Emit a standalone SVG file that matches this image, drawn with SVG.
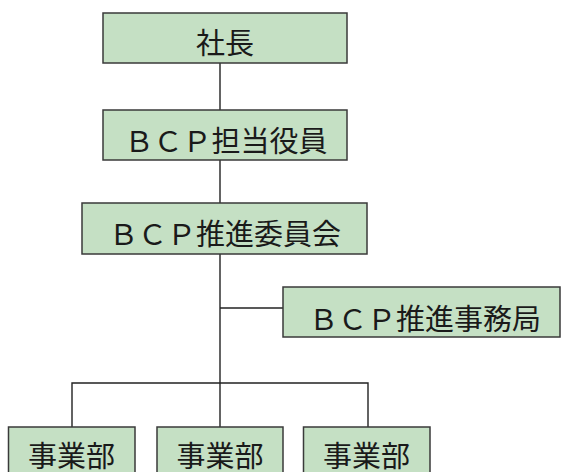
<svg xmlns="http://www.w3.org/2000/svg" width="563" height="472" viewBox="0 0 563 472">
<style>
.box{fill:#c5e0c4;stroke:#3a3a3a;stroke-width:1.5}
.lbl{font-family:"Noto Sans CJK JP","Noto Sans CJK SC",sans-serif;font-size:29px;fill:#1a1a1a;text-anchor:middle;dominant-baseline:central}
.ln{stroke:#222;stroke-width:1.4;fill:none}
</style>
<rect width="563" height="472" fill="#ffffff"/>
<g id="connectors">
<line class="ln" x1="220" y1="63" x2="220" y2="110"/>
<line class="ln" x1="220" y1="160" x2="220" y2="203"/>
<line class="ln" x1="220" y1="254" x2="220" y2="427"/>
<line class="ln" x1="220" y1="308" x2="283" y2="308"/>
<polyline class="ln" points="72,427 72,383 368,383 368,427"/>
</g>
<g id="node-shacho">
<rect class="box" x="103" y="13" width="244" height="50"/>
<text class="lbl" x="225" y="41">社長</text>
</g>
<g id="node-tanto">
<rect class="box" x="103" y="110" width="244" height="50"/>
<text class="lbl" x="226" y="139">ＢＣＰ担当役員</text>
</g>
<g id="node-iinkai">
<rect class="box" x="82" y="203" width="285" height="51"/>
<text class="lbl" x="225" y="232">ＢＣＰ推進委員会</text>
</g>
<g id="node-jimukyoku">
<rect class="box" x="283" y="287" width="277" height="50"/>
<text class="lbl" x="425" y="317">ＢＣＰ推進事務局</text>
</g>
<g id="node-jigyobu1">
<rect class="box" x="8.5" y="427" width="126.5" height="60"/>
<text class="lbl" x="71.5" y="454">事業部</text>
</g>
<g id="node-jigyobu2">
<rect class="box" x="157" y="427" width="126" height="60"/>
<text class="lbl" x="220" y="454">事業部</text>
</g>
<g id="node-jigyobu3">
<rect class="box" x="303.5" y="427" width="126.5" height="60"/>
<text class="lbl" x="366.5" y="454">事業部</text>
</g>
</svg>
